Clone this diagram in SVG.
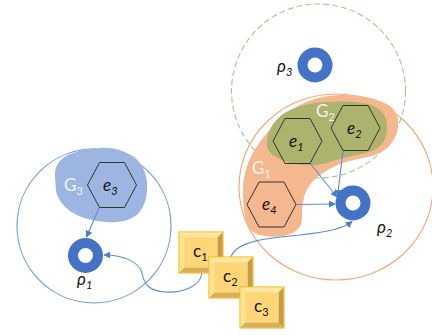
<svg xmlns="http://www.w3.org/2000/svg" width="432" height="335" viewBox="0 0 432 335">
  <style>
    .lbl { font-family: Lato, "Open Sans", "Liberation Sans", sans-serif; fill: #111; }
    .it { font-style: italic; }
    .grp { font-family: Lato, "Open Sans", "Liberation Sans", sans-serif; font-size: 17px; fill: #f4f4f4; }
    .hex { stroke: #333; stroke-width: 1; }
    .ring { fill: none; stroke: #4472c4; stroke-width: 10; }
    .conn { fill: none; stroke: #5b8bd4; stroke-width: 1.1; marker-end: url(#arr); }
  </style>
  <defs>
    <marker id="arr" viewBox="0 0 10 10" refX="9" refY="5" markerWidth="7" markerHeight="7" markerUnits="userSpaceOnUse" orient="auto">
      <path d="M0,0 L10,5 L0,10 z" fill="#4a7cc9"/>
    </marker>
    <g id="bevel">
      <rect x="0" y="0" width="44" height="41" fill="#ffd97a" stroke="#f5bd1c" stroke-width="1.2"/>
      <polygon points="0.6,0.6 43.4,0.6 38.5,5.5 5.5,5.5" fill="#ffe7a3"/>
      <polygon points="0.6,0.6 5.5,5.5 5.5,35.5 0.6,40.4" fill="#ffe394"/>
      <polygon points="43.4,0.6 43.4,40.4 38.5,35.5 38.5,5.5" fill="#c49a4c"/>
      <polygon points="0.6,40.4 43.4,40.4 38.5,35.5 5.5,35.5" fill="#d7ae5f"/>
      <rect x="5.5" y="5.5" width="33" height="30" fill="#ffd677"/>
    </g>
  </defs>

  <!-- region circles -->
  <g id="region-1">
    <circle cx="94" cy="226" r="77" fill="none" stroke="#6f96d8" stroke-width="1.1"/>
  </g>
  <g id="region-2">
    <ellipse cx="336" cy="187" rx="97" ry="93" fill="none" stroke="#f4a574" stroke-width="1.1"/>
  </g>
  <g id="region-3">
    <circle cx="318.5" cy="91" r="87" fill="none" stroke="#9fcc86" stroke-width="1.1" stroke-dasharray="6 3"/>
  </g>

  <!-- groups -->
  <g id="G3">
    <path d="M55,177 C54,166 60,158 70,154 C80,150 90,148 100,148 C112,147 122,150 131,155 C140,160 146,170 147,182 C148,195 145,206 138,214 C130,221 118,223 106,222 C95,221 84,219 75,214 C65,209 58,200 56,191 Z" fill="#9db6e1"/>
    <text class="grp" x="64" y="191">G<tspan font-size="11" dy="4">3</tspan></text>
  </g>
  <g id="G1">
    <path d="M243,190 C243,175 248,160 256,148 C265,133 278,120 293,109 C306,100 322,96 340,95 C358,94 376,98 390,106 C398,112 400,122 397,132 C394,142 388,150 375,155 C362,159 350,160 340,164 C328,169 316,176 309,186 C303,195 302,206 302,218 C302,228 295,234 283,236 C270,238 257,236 250,230 C244,222 243,205 243,190 Z" fill="#f4b78e"/>
    <text class="grp" x="252" y="174">G<tspan font-size="11" dy="4">1</tspan></text>
  </g>
  <g id="G2">
    <path d="M267,146 C266,134 272,122 283,114 C295,106 310,103 325,102 C340,101 355,101 368,104 C380,107 387,115 387,126 C387,138 383,147 372,151 C360,155 348,156 336,160 C325,164 315,166 303,165 C290,164 280,160 273,155 C269,152 267,149 267,146 Z" fill="#abb36c"/>
    <text class="grp" x="316" y="117">G<tspan font-size="11" dy="4">2</tspan></text>
  </g>

  <!-- connectors -->
  <g id="connectors">
    <path class="conn" d="M99,208 L86.5,237"/>
    <path class="conn" d="M310,163 L337,197"/>
    <path class="conn" d="M343,151 L337.5,196"/>
    <path class="conn" d="M296,204.5 L335,204"/>
    <path class="conn" d="M202,273 C200,288 180,293 165,292 C149,291 144,284 142,273 C139,262 124,255 104,255"/>
    <path class="conn" d="M231,257 C236,241 268,238 300,235 C325,232 341,230 352,221.5"/>
  </g>

  <!-- entities -->
  <g id="e3">
    <polygon class="hex" fill="none" points="87.5,185 99.5,162.5 124.5,162.5 136.5,185 124.5,207.5 99.5,207.5"/>
    <text class="lbl it" x="103" y="191" font-size="17">e<tspan font-size="11" dy="4">3</tspan></text>
  </g>
  <g id="e1">
    <polygon class="hex" fill="none" points="273,141 285,118.5 310,118.5 322,141 310,163.5 285,163.5"/>
    <text class="lbl it" x="289" y="147" font-size="17">e<tspan font-size="11" dy="4">1</tspan></text>
  </g>
  <g id="e2">
    <polygon class="hex" fill="none" points="331,128 343,105.5 368,105.5 380,128 368,150.5 343,150.5"/>
    <text class="lbl it" x="347" y="134" font-size="17">e<tspan font-size="11" dy="4">2</tspan></text>
  </g>
  <g id="e4">
    <polygon class="hex" fill="none" points="247,204.5 259,182 284,182 296,204.5 284,227 259,227"/>
    <text class="lbl it" x="262" y="210" font-size="17">e<tspan font-size="11" dy="4">4</tspan></text>
  </g>

  <!-- resources -->
  <g id="rho1">
    <circle class="ring" cx="85.5" cy="255.5" r="12.5"/>
    <text class="lbl it" x="77" y="285" font-size="17">ρ<tspan font-size="11" dy="4">1</tspan></text>
  </g>
  <g id="rho2">
    <circle class="ring" cx="353" cy="203" r="12.5"/>
    <text class="lbl it" x="377" y="233" font-size="17">ρ<tspan font-size="11" dy="4">2</tspan></text>
  </g>
  <g id="rho3">
    <circle class="ring" cx="315" cy="65" r="12.5"/>
    <text class="lbl it" x="277" y="72" font-size="17">ρ<tspan font-size="11" dy="4">3</tspan></text>
  </g>

  <!-- components -->
  <g id="c1">
    <use href="#bevel" x="179" y="232"/>
    <text class="lbl" x="193" y="257" font-size="17">c<tspan font-size="11" dy="4">1</tspan></text>
  </g>
  <g id="c2">
    <use href="#bevel" x="209" y="257"/>
    <text class="lbl" x="223" y="282" font-size="17">c<tspan font-size="11" dy="4">2</tspan></text>
  </g>
  <g id="c3">
    <use href="#bevel" x="240" y="287"/>
    <text class="lbl" x="254" y="312" font-size="17">c<tspan font-size="11" dy="4">3</tspan></text>
  </g>
</svg>
